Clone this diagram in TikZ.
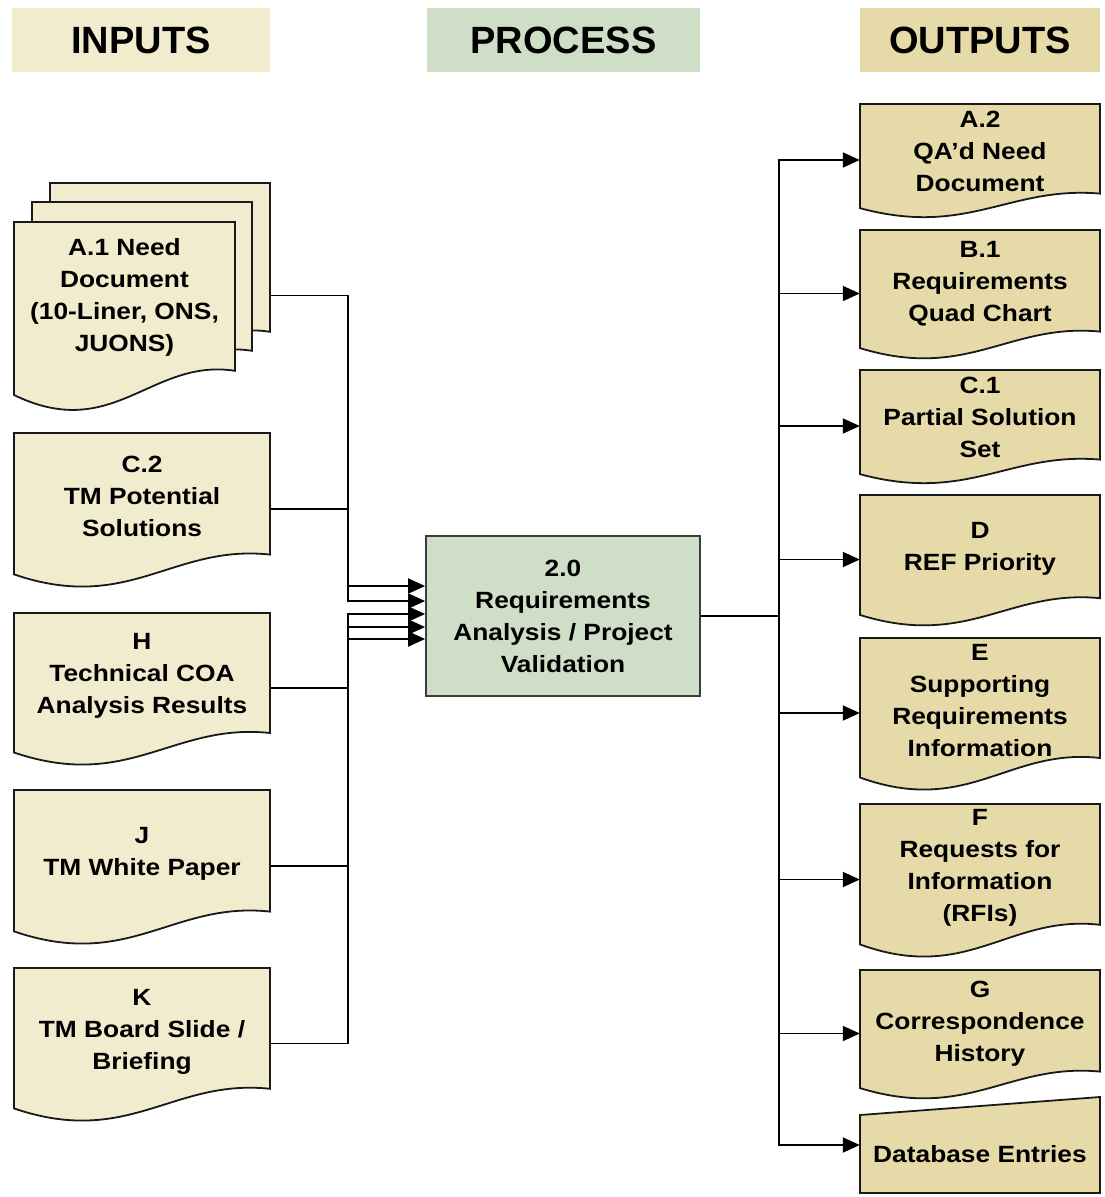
\documentclass[tikz,border=0pt]{standalone}
\usepackage{fontspec}
\setmainfont{Liberation Sans}[FakeStretch=1.12]
\newfontfamily\headfont{Liberation Sans}
\usetikzlibrary{arrows.meta}
\definecolor{incol}{RGB}{242,236,206}
\definecolor{proccol}{RGB}{207,222,198}
\definecolor{outcol}{RGB}{230,219,168}
\definecolor{edgecol}{RGB}{25,25,25}
\tikzset{
  docline/.style={draw=edgecol, line width=1.8pt, line join=miter},
  doctext/.style={align=center, inner sep=0pt, font=\fontsize{23.5}{32}\selectfont\bfseries},
  conn/.style={line width=1.9pt, draw=black},
  arr/.style={conn, -{Triangle[length=17pt,width=15pt]}},
  head/.style={inner sep=0pt, font=\headfont\fontsize{38}{40}\selectfont\bfseries},
  hit/.style={inner sep=0pt, draw=none},
}
\newcommand\docpath[5]{% fill, x0, y0, w, h
  \begin{scope}[shift={(#2pt,-#3pt)}, x=#4pt, y=-#5pt]
    \filldraw[docline, fill=#1] (0,0) -- (1,0) -- (1,0.8) .. controls (0.62,0.73) and (0.45,1.19) .. (0,0.93) -- cycle;
  \end{scope}}
\newcommand\docnode[7]{% name, fill, x0, y0, w, h, text
  \docpath{#2}{#3}{#4}{#5}{#6}
  \node[hit, minimum width=#5pt, minimum height=#6pt] (#1) at (#3+#5/2, #4+#6/2) {};
  \node[doctext] (#1-t) at (#3+#5/2, #4+0.42*#6) {#7};}
\begin{document}
\begin{tikzpicture}[x=1pt, y=-1pt]
\useasboundingbox (0,0) rectangle (1105,1197);

% headers
\node[head, fill=incol, minimum width=258pt, minimum height=64pt] (hin) at (141,40) {INPUTS};
\node[head, fill=proccol, minimum width=273pt, minimum height=64pt] (hproc) at (563.5,40) {PROCESS};
\node[head, fill=outcol, minimum width=240pt, minimum height=64pt] (hout) at (980,40) {OUTPUTS};

% input stack A.1
\docpath{incol}{50}{183}{220}{186}
\docpath{incol}{32}{202}{220}{186}
\docpath{incol}{14}{222}{221}{186}
\node[hit, minimum width=256pt, minimum height=225pt] (a1) at (142,295.5) {};
\node[doctext] (a1-t) at (124.5,297) {A.1 Need\\Document\\(10-Liner, ONS,\\JUONS)};

% inputs
\docnode{c2}{incol}{14}{433}{256}{152}{C.2\\TM Potential\\Solutions}
\docnode{inH}{incol}{14}{613}{256}{150}{H\\Technical COA\\Analysis Results}
\docnode{inJ}{incol}{14}{790}{256}{152}{J\\TM White Paper}
\docnode{inK}{incol}{14}{968}{256}{151}{K\\TM Board Slide /\\Briefing}

% process
\node[draw=edgecol!85, line width=1.8pt, fill=proccol, minimum width=274pt, minimum height=160pt, doctext] (proc) at (563,616) {2.0\\Requirements\\Analysis / Project\\Validation};

% outputs
\docnode{a2}{outcol}{860}{104}{240}{112}{A.2\\QA’d Need\\Document}
\docnode{b1}{outcol}{860}{230}{240}{127}{B.1\\Requirements\\Quad Chart}
\docnode{c1}{outcol}{860}{370}{240}{112}{C.1\\Partial Solution\\Set}
\docnode{d}{outcol}{860}{495}{240}{129}{D\\REF Priority}
\docnode{e}{outcol}{860}{638}{240}{150}{E\\Supporting\\Requirements\\Information}
\docnode{f}{outcol}{860}{804}{240}{151}{F\\Requests for\\Information\\(RFIs)}
\docnode{g}{outcol}{860}{970}{240}{127}{G\\Correspondence\\History}
\filldraw[docline, fill=outcol] (860,1115) -- (1100,1097) -- (1100,1193) -- (860,1193) -- cycle;
\node[hit, minimum width=240pt, minimum height=96pt] (db) at (980,1145) {};
\node[doctext] (db-t) at (980,1154) {Database Entries};

% junctions
\coordinate (jL) at (348,616);
\coordinate (jR) at (779,616);
\coordinate (in1) at ([yshift=30pt]proc.west);
\coordinate (in2) at ([yshift=15pt]proc.west);
\coordinate (in3) at ([yshift=2pt]proc.west);
\coordinate (in4) at ([yshift=-11pt]proc.west);
\coordinate (in5) at ([yshift=-23pt]proc.west);

% input connectors
\draw[arr] (a1.east) -| (jL |- in1) -- (in1);
\draw[arr] (c2.east) -| (jL |- in2) -- (in2);
\draw[arr] (inH.east) -| (jL |- in3) -- (in3);
\draw[arr] (inJ.east) -| (jL |- in4) -- (in4);
\draw[arr] (inK.east) -| (jL |- in5) -- (in5);

% output connectors
\draw[conn] (proc.east) -- (jR);
\foreach \o in {a2,b1,c1,d,e,f,g,db}
  \draw[arr] (jR) |- (\o.west);
\end{tikzpicture}
\end{document}
